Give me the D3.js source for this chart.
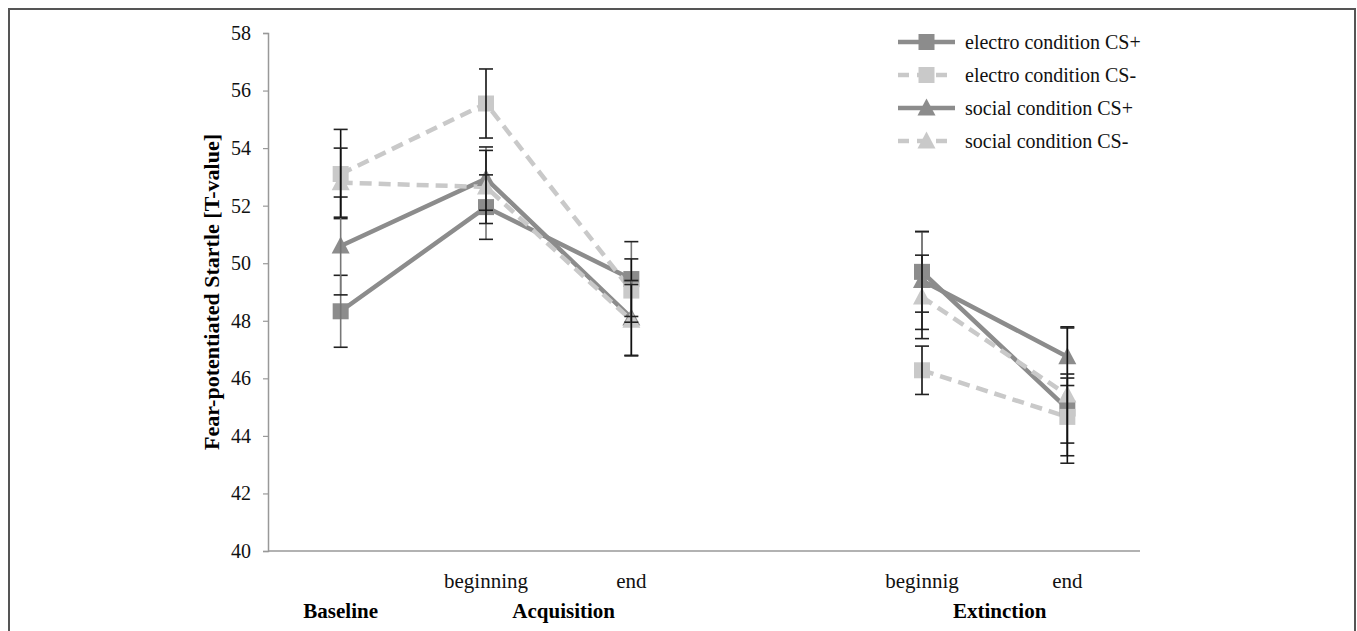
<!DOCTYPE html>
<html>
<head>
<meta charset="utf-8">
<title>Fear-potentiated startle</title>
<script src="https://d3js.org/d3.v7.min.js"></script>
<style>
  body { margin: 0; background: #fff; }
  svg { display: block; font-family: "Liberation Serif", "Times New Roman", serif; }
</style>
</head>
<body>
<div id="chart"></div>
<script>
// slots along the x axis; slot 3 is the empty gap between acquisition and extinction
var slots = [0, 1, 2, 3, 4, 5];
var slotLabels = ["", "beginning", "end", "", "beginnig", "end"];
var phases = [
  { name: "Baseline", from: 0, to: 0 },
  { name: "Acquisition", from: 1, to: 2 },
  { name: "Extinction", from: 4, to: 5 }
];
var yTicks = [40, 42, 44, 46, 48, 50, 52, 54, 56, 58];

var seriesNames = ["electro condition CS+", "electro condition CS-", "social condition CS+", "social condition CS-"];
var electroPlus  = [48.33, 51.95, 49.45, null, 49.70, 44.95];
var electroMinus = [53.10, 55.55, 49.05, null, 46.28, 44.66];
var socialPlus   = [50.60, 52.94, 48.10, null, 49.40, 46.75];
var socialMinus  = [52.80, 52.65, 48.02, null, 48.83, 45.42];
var electroPlusErr  = [1.25, 1.12, 1.30, null, 1.40, 1.20];
var electroMinusErr = [1.55, 1.20, 1.10, null, 0.84, 1.35];
var socialPlusErr   = [1.70, 1.10, 1.30, null, 1.70, 1.00];
var socialMinusErr  = [1.20, 1.27, 1.24, null, 1.45, 2.37];

var series = [
  { name: seriesNames[0], values: electroPlus,  err: electroPlusErr,  color: "#8c8c8c", dash: null,   shape: "square",   errColor: "#777" },
  { name: seriesNames[1], values: electroMinus, err: electroMinusErr, color: "#c9c9c9", dash: "12,7", shape: "square",   errColor: "#111" },
  { name: seriesNames[2], values: socialPlus,   err: socialPlusErr,   color: "#8c8c8c", dash: null,   shape: "triangle", errColor: "#777" },
  { name: seriesNames[3], values: socialMinus,  err: socialMinusErr,  color: "#c9c9c9", dash: "12,7", shape: "triangle", errColor: "#111" }
];

var W = 1357, H = 631;
var margin = { left: 268, right: 217, top: 33, bottom: 80 };
var width = W - margin.left - margin.right,
    height = H - margin.top - margin.bottom;

var svg = d3.select("#chart").append("svg")
  .attr("width", W).attr("height", H);

// outer frame (no bottom edge, as in the picture)
svg.append("path")
  .attr("d", "M9,631 L9,9 L1355,9 L1355,631")
  .attr("fill", "none").attr("stroke", "#555").attr("stroke-width", 2);

var g = svg.append("g").attr("transform", "translate(" + margin.left + "," + margin.top + ")");

var x = d3.scaleBand().domain(slots).range([0, width]);
var y = d3.scaleLinear().domain([40, 58]).range([height, 0]);
function cx(i) { return x(i) + x.bandwidth() / 2; }

// y axis
var yAxis = g.append("g")
  .call(d3.axisLeft(y).tickValues(yTicks).tickSize(5).tickPadding(12));
yAxis.select(".domain").attr("stroke", "#999").attr("stroke-width", 1.5);
yAxis.selectAll(".tick line").attr("stroke", "#999").attr("stroke-width", 1.2);
yAxis.selectAll("text").attr("font-size", 20).attr("fill", "#111")
  .attr("font-family", "Liberation Serif, serif");

// x axis line
g.append("line")
  .attr("x1", 0).attr("x2", width).attr("y1", height).attr("y2", height)
  .attr("stroke", "#999").attr("stroke-width", 1.5);

// category and phase labels
g.selectAll(".slotlab").data(slots).enter().append("text")
  .attr("x", function (d) { return cx(d); })
  .attr("y", height + 37)
  .attr("text-anchor", "middle").attr("font-size", 21).attr("fill", "#111")
  .text(function (d) { return slotLabels[d]; });

g.selectAll(".phaselab").data(phases).enter().append("text")
  .attr("x", function (d) { return d.from === d.to ? cx(d.from) : (cx(d.from) + cx(d.to)) / 2 + 5; })
  .attr("y", height + 67)
  .attr("text-anchor", "middle").attr("font-size", 21).attr("font-weight", "bold").attr("fill", "#000")
  .text(function (d) { return d.name; });

// y title
g.append("text")
  .attr("transform", "translate(-49," + (height / 2) + ") rotate(-90)")
  .attr("text-anchor", "middle").attr("font-size", 22).attr("font-weight", "bold").attr("fill", "#000")
  .text("Fear-potentiated Startle [T-value]");

// lines
var line = d3.line()
  .defined(function (d) { return d != null; })
  .x(function (d, i) { return cx(i); })
  .y(function (d) { return y(d); });

series.forEach(function (s) {
  g.append("path")
    .attr("d", line(s.values))
    .attr("fill", "none").attr("stroke", s.color).attr("stroke-width", 4.5)
    .attr("stroke-dasharray", s.dash);
});

function marker(sel, shape, color) {
  if (shape === "square") {
    sel.append("rect").attr("x", -8).attr("y", -8).attr("width", 16).attr("height", 16).attr("fill", color);
  } else {
    sel.append("path").attr("d", "M0,-9.5 L9,7.5 L-9,7.5 Z").attr("fill", color);
  }
}

// markers and error bars, series by series
series.forEach(function (s) {
  s.values.forEach(function (v, i) {
    if (v == null) return;
    var m = g.append("g").attr("transform", "translate(" + cx(i) + "," + y(v) + ")");
    marker(m, s.shape, s.color);
  });
});
series.forEach(function (s) {
  s.values.forEach(function (v, i) {
    if (v == null) return;
    var e = s.err[i], xc = cx(i);
    var eb = g.append("g").attr("stroke", s.errColor).attr("stroke-width", 1.6);
    eb.append("line").attr("x1", xc).attr("x2", xc).attr("y1", y(v + e)).attr("y2", y(v - e));
    [v + e, v - e].forEach(function (t) {
      eb.append("line").attr("x1", xc - 7).attr("x2", xc + 7).attr("y1", y(t)).attr("y2", y(t))
        .attr("stroke", "#222");
    });
  });
});

// legend
var legend = svg.append("g").attr("transform", "translate(898,42)");
series.forEach(function (s, i) {
  var row = legend.append("g").attr("transform", "translate(0," + (i * 33) + ")");
  row.append("line").attr("x1", 0).attr("x2", 57).attr("y1", 0).attr("y2", 0)
    .attr("stroke", s.color).attr("stroke-width", 4.5).attr("stroke-dasharray", s.dash ? "11,8" : null);
  var m = row.append("g").attr("transform", "translate(28.5,0)");
  marker(m, s.shape, s.color);
  row.append("text").attr("x", 67).attr("y", 6.5).attr("font-size", 20).attr("fill", "#111").text(s.name);
});
</script>
</body>
</html>
